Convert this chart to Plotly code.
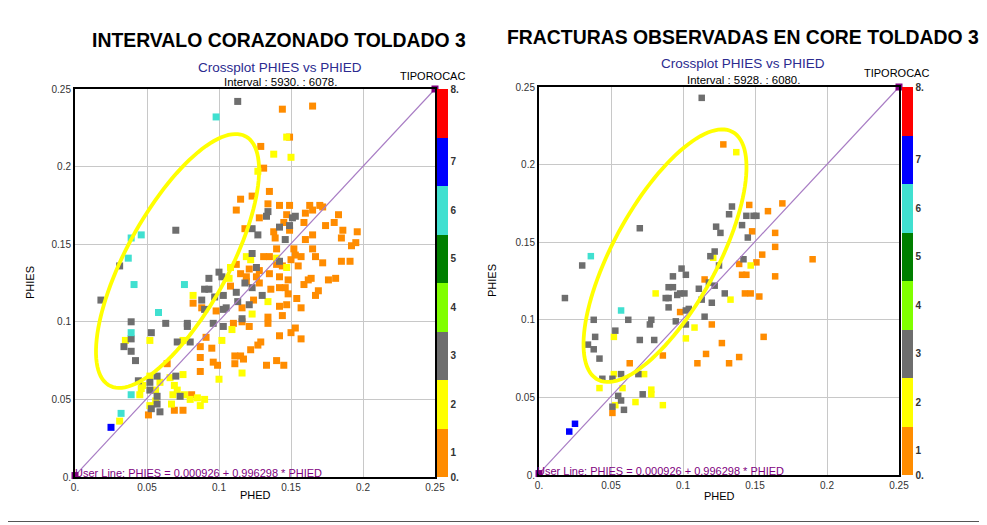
import numpy as np
import plotly.graph_objects as go

# page offset: the browser places the figure 8px from the top-left corner
OFF = 8
W, H = 987 - OFF, 525 - OFF

# ---------------- data (PHIED, PHIES) grouped by TIPOROCAC code ----------------
left_code1 = [(0.129,0.213),(0.131,0.199),(0.115,0.179),(0.112,0.172),(0.123,0.181),(0.128,0.167),(0.118,0.160),
    (0.144,0.237),(0.165,0.239),(0.149,0.219),(0.135,0.184),(0.134,0.176),(0.142,0.175),(0.149,0.175),(0.163,0.175),
    (0.170,0.175),(0.172,0.174),(0.165,0.172),(0.147,0.169),(0.160,0.170),(0.183,0.169),(0.145,0.164),(0.159,0.164),
    (0.180,0.164),(0.174,0.162),(0.138,0.158),(0.149,0.159),(0.186,0.159),(0.196,0.158),(0.165,0.156),(0.139,0.154),
    (0.160,0.153),(0.185,0.154),(0.195,0.151),(0.192,0.149),(0.165,0.147),(0.152,0.147),(0.140,0.147),(0.131,0.142),
    (0.135,0.142),(0.150,0.140),(0.153,0.143),(0.157,0.142),(0.167,0.142),(0.172,0.138),(0.185,0.139),(0.191,0.139),
    (0.155,0.136),(0.112,0.137),(0.115,0.131),(0.121,0.134),(0.128,0.133),(0.135,0.131),(0.142,0.129),(0.148,0.127),
    (0.164,0.128),(0.176,0.127),(0.181,0.128),(0.119,0.129),(0.126,0.129),(0.140,0.137),(0.144,0.136),(0.119,0.126),
    (0.128,0.125),(0.136,0.121),(0.146,0.122),(0.142,0.122),(0.148,0.118),(0.154,0.115),(0.157,0.109),(0.162,0.127),
    (0.169,0.120),(0.167,0.117),(0.159,0.124),(0.108,0.123),(0.116,0.109),(0.124,0.114),(0.098,0.107),(0.134,0.103),
    (0.142,0.110),(0.147,0.111),(0.144,0.104),(0.110,0.099),(0.116,0.100),(0.121,0.097),(0.134,0.099),(0.091,0.090),
    (0.142,0.091),(0.150,0.093),(0.153,0.096),(0.157,0.089),(0.087,0.084),(0.095,0.083),(0.127,0.085),(0.129,0.087),
    (0.122,0.082),(0.087,0.077),(0.111,0.078),(0.115,0.078),(0.117,0.076),(0.096,0.074),(0.099,0.072),(0.111,0.073),
    (0.133,0.072),(0.140,0.075),(0.145,0.072),(0.082,0.112),(0.088,0.109),(0.064,0.073),(0.087,0.068),(0.081,0.053),
    (0.069,0.043),(0.075,0.043),(0.051,0.040)]
left_code2 = [(0.127,0.197),(0.138,0.208),(0.150,0.206),(0.147,0.219),(0.119,0.142),(0.122,0.140),(0.140,0.141),
    (0.147,0.135),(0.108,0.135),(0.107,0.128),(0.082,0.117),(0.134,0.113),(0.123,0.105),(0.109,0.095),(0.102,0.088),
    (0.075,0.088),(0.116,0.067),(0.100,0.063),(0.090,0.050),(0.087,0.046),(0.035,0.088),(0.052,0.088),(0.052,0.065),
    (0.047,0.059),(0.075,0.066),(0.066,0.064),(0.059,0.061),(0.069,0.059),(0.071,0.056),(0.068,0.053),(0.076,0.053),
    (0.080,0.050),(0.085,0.051),(0.067,0.047),(0.045,0.053),(0.046,0.057),(0.056,0.056),(0.056,0.049),(0.052,0.046),
    (0.031,0.036)]
left_code3 = [(0.113,0.242),(0.134,0.171),(0.133,0.168),(0.123,0.160),(0.127,0.156),(0.070,0.159),(0.031,0.136),
    (0.123,0.144),(0.126,0.135),(0.100,0.132),(0.093,0.128),(0.102,0.129),(0.151,0.167),(0.153,0.168),(0.142,0.161),
    (0.149,0.162),(0.146,0.153),(0.142,0.139),(0.118,0.125),(0.123,0.122),(0.090,0.121),(0.093,0.121),(0.097,0.116),
    (0.103,0.117),(0.088,0.114),(0.112,0.119),(0.113,0.113),(0.121,0.111),(0.130,0.117),(0.090,0.108),(0.103,0.108),
    (0.105,0.109),(0.116,0.102),(0.078,0.099),(0.078,0.097),(0.096,0.099),(0.103,0.097),(0.080,0.087),(0.018,0.114),
    (0.039,0.100),(0.063,0.099),(0.053,0.093),(0.039,0.089),(0.071,0.087),(0.034,0.084),(0.039,0.081),(0.042,0.075),
    (0.044,0.062),(0.052,0.061),(0.057,0.065),(0.070,0.065),(0.073,0.052),(0.052,0.056),(0.057,0.052),(0.057,0.047),
    (0.059,0.042),(0.053,0.044)]
left_code6 = [(0.098,0.232),(0.039,0.154),(0.046,0.156),(0.037,0.141),(0.041,0.124),(0.076,0.124),(0.058,0.106),
    (0.039,0.093),(0.039,0.053),(0.032,0.041)]
left_code7 = [(0.025,0.032)]

right_code1 = [(0.128,0.213),(0.146,0.174),(0.169,0.175),(0.159,0.170),(0.148,0.157),(0.164,0.156),(0.164,0.147),
    (0.155,0.142),(0.151,0.137),(0.139,0.136),(0.190,0.139),(0.141,0.129),(0.144,0.129),(0.164,0.128),(0.115,0.126),
    (0.143,0.117),(0.147,0.117),(0.153,0.115),(0.098,0.105),(0.120,0.097),(0.156,0.089),(0.127,0.085),(0.116,0.078),
    (0.086,0.077),(0.139,0.076),(0.063,0.072),(0.110,0.072),(0.132,0.072),(0.051,0.040)]
right_code2 = [(0.137,0.208),(0.121,0.140),(0.147,0.135),(0.081,0.117),(0.133,0.113),(0.108,0.095),(0.052,0.089),
    (0.102,0.088),(0.052,0.065),(0.073,0.065),(0.042,0.056),(0.058,0.056),(0.078,0.055),(0.078,0.052),(0.067,0.047),
    (0.053,0.045),(0.086,0.045)]
right_code3 = [(0.113,0.243),(0.070,0.159),(0.134,0.173),(0.132,0.168),(0.144,0.167),(0.149,0.167),(0.151,0.167),
    (0.123,0.160),(0.126,0.156),(0.141,0.161),(0.145,0.153),(0.030,0.135),(0.122,0.144),(0.119,0.141),(0.125,0.135),
    (0.142,0.139),(0.099,0.133),(0.102,0.129),(0.093,0.128),(0.118,0.124),(0.122,0.122),(0.090,0.121),(0.093,0.121),
    (0.098,0.117),(0.101,0.117),(0.096,0.116),(0.111,0.120),(0.088,0.114),(0.090,0.114),(0.129,0.117),(0.113,0.113),
    (0.120,0.111),(0.018,0.114),(0.090,0.108),(0.104,0.107),(0.102,0.106),(0.115,0.102),(0.038,0.100),(0.062,0.100),
    (0.078,0.100),(0.077,0.097),(0.095,0.099),(0.102,0.097),(0.053,0.093),(0.039,0.089),(0.070,0.087),(0.080,0.087),
    (0.034,0.084),(0.038,0.081),(0.042,0.075),(0.044,0.062),(0.057,0.065),(0.069,0.065),(0.051,0.062),(0.072,0.052),
    (0.055,0.051),(0.057,0.048),(0.051,0.044),(0.059,0.042)]
right_code6 = [(0.036,0.141),(0.057,0.106)]
right_code7 = [(0.025,0.033),(0.021,0.028)]

axis_ticks = [0, 0.05, 0.1, 0.15, 0.2, 0.25]
axis_ticktext = ["0.", "0.05", "0.1", "0.15", "0.2", "0.25"]
cbar_tickvals = [0, 0.5, 1.5, 2.5, 3.5, 4.5, 5.5, 6.5, 8]
cbar_ticktext = ["0.", "1", "2", "3", "4", "5", "6", "7", "8."]
band_colors = ["#FF8C00", "#FFFF00", "#6E6E6E", "#80FF00", "#007F00", "#40E0D0", "#0000FF", "#FF0000"]
code_colors = {1: "#FF8C00", 2: "#FFFF00", 3: "#6E6E6E", 6: "#40E0D0", 7: "#0000FF"}
line_intercept = 0.000926
line_slope = 0.996298

titles = ["INTERVALO CORAZONADO TOLDADO 3", "FRACTURAS OBSERVADAS EN CORE TOLDADO 3"]
intervals = ["Interval : 5930. : 6078.", "Interval : 5928. : 6080."]

FONT = "Liberation Sans, Arial, sans-serif"

def fx(px):
    return (px - OFF) / W

def fy(py):
    return 1 - (py - OFF) / H

fig = go.Figure()

panels = [
    dict(xa="x", ya="y", groups=[(1, left_code1), (2, left_code2), (3, left_code3), (6, left_code6), (7, left_code7)],
         size=7, dom_x=(75, 435), dom_y=(89, 477)),
    dict(xa="x2", ya="y2", groups=[(1, right_code1), (2, right_code2), (3, right_code3), (6, right_code6), (7, right_code7)],
         size=6.5, dom_x=(539, 899), dom_y=(87, 475)),
]

cscale = []
for i, c in enumerate(band_colors):
    cscale.append([i / 8, c])
    cscale.append([(i + 1) / 8, c])

for p in panels:
    for code, pts in p["groups"]:
        fig.add_trace(go.Scatter(
            x=[q[0] for q in pts], y=[q[1] for q in pts], mode="markers",
            xaxis=p["xa"], yaxis=p["ya"], showlegend=False,
            marker=dict(symbol="square", size=p["size"], color=code_colors[code], line=dict(width=0)),
        ))
    lx = np.array([0.0, 0.25])
    ly = line_intercept + line_slope * lx
    fig.add_trace(go.Scatter(x=lx, y=ly, mode="lines", xaxis=p["xa"], yaxis=p["ya"], showlegend=False,
                             line=dict(color="#A87CC4", width=1.2), hoverinfo="skip"))
    fig.add_trace(go.Scatter(x=lx, y=np.minimum(ly, 0.25), mode="markers", xaxis=p["xa"], yaxis=p["ya"],
                             showlegend=False, cliponaxis=False,
                             marker=dict(symbol="square", size=7, color="#800080"), hoverinfo="skip"))

# colour bars
cb_specs = [("x", "y", 437, 89, 477), ("x2", "y2", 902, 87, 475)]
for xa, ya, cx, top, bot in cb_specs:
    fig.add_trace(go.Scatter(
        x=[None], y=[None], mode="markers", xaxis=xa, yaxis=ya, showlegend=False, hoverinfo="skip",
        marker=dict(color=[0], cmin=0, cmax=8, colorscale=cscale, showscale=True,
                    colorbar=dict(x=fx(cx), xanchor="left", xpad=0, ypad=0, y=fy(bot), yanchor="bottom",
                                  len=(bot - top) / H, lenmode="fraction", thickness=11, outlinewidth=0,
                                  tickvals=cbar_tickvals, ticktext=cbar_ticktext, ticks="",
                                  tickfont=dict(family=FONT, size=10, color="#333333", weight="bold"))),
    ))

def ax(dom, anchor):
    return dict(domain=dom, anchor=anchor, range=[0, 0.25], tickvals=axis_ticks, ticktext=axis_ticktext,
                showgrid=True, gridcolor="#C8C8C8", gridwidth=1, showline=True, linecolor="black",
                linewidth=2, mirror=True, zeroline=False, ticks="", automargin=False,
                tickfont=dict(family=FONT, size=10, color="#333333"), fixedrange=True)

layout = dict(width=W, height=H, margin=dict(l=0, r=0, t=0, b=0, autoexpand=False), paper_bgcolor="white",
              plot_bgcolor="white", showlegend=False, font=dict(family=FONT))
for p, (xk, yk) in zip(panels, [("xaxis", "yaxis"), ("xaxis2", "yaxis2")]):
    x0, x1 = p["dom_x"]
    y0, y1 = p["dom_y"]
    layout[xk] = ax([fx(x0), fx(x1)], p["ya"])
    layout[yk] = ax([fy(y1), fy(y0)], p["xa"])
fig.update_layout(**layout)

# yellow hand-drawn ellipses (annotation)
def ellipse_path(cx, cy, a, b, ang, sx, sy):
    t = np.linspace(0, 2 * np.pi, 120)
    th = np.radians(ang)
    ex = a * np.cos(t) * np.cos(th) - b * np.sin(t) * np.sin(th)
    ey = a * np.cos(t) * np.sin(th) + b * np.sin(t) * np.cos(th)
    xs = cx + ex / sx
    ys = cy + ey / sy
    return "M " + " L ".join(f"{u:.5f},{v:.5f}" for u, v in zip(xs, ys)) + " Z"

ellipses = [("x", "y", 0.0712, 0.1392, 142, 51, 61.3, 1440, 1552),
            ("x2", "y2", 0.0875, 0.1413, 141, 52, 61.4, 1440, 1552)]
shapes = []
for xr, yr, cx, cy, a, b, ang, sx, sy in ellipses:
    shapes.append(dict(type="path", xref=xr, yref=yr, path=ellipse_path(cx, cy, a, b, ang, sx, sy),
                       line=dict(color="#FFFF00", width=3.8), layer="above"))
# outer frame (right and bottom edges visible)
shapes.append(dict(type="line", xref="paper", yref="paper", x0=fx(983), x1=fx(983), y0=fy(521.5), y1=1,
                   line=dict(color="#555555", width=1.5)))
shapes.append(dict(type="line", xref="paper", yref="paper", x0=0, x1=fx(983), y0=fy(521.5), y1=fy(521.5),
                   line=dict(color="#555555", width=1)))
fig.update_layout(shapes=shapes)

ann = []
def text(s, x, y, size, color="black", bold=False, angle=0, xanchor="center"):
    ann.append(dict(text=s, x=fx(x), y=fy(y), xref="paper", yref="paper", showarrow=False,
                    xanchor=xanchor, yanchor="middle", textangle=angle,
                    font=dict(family=FONT, size=size, color=color, weight="bold" if bold else "normal")))

text(titles[0], 279, 40, 19.4, bold=True)
text(titles[1], 743, 37, 19.4, bold=True)
for cx, yc in [(280, 67), (743, 64)]:
    text("Crossplot PHIES vs PHIED", cx, yc, 13.5, color="#2B2B8F")
for s, cx, yi in [(intervals[0], 280, 82), (intervals[1], 743, 80)]:
    text(s, cx, yi, 11.4)
text("TIPOROCAC", 432, 76, 11)
text("TIPOROCAC", 896, 73, 11)
text("PHED", 255, 495, 11)
text("PHED", 719, 496, 11)
text("PHIES", 30, 283, 11, angle=-90)
text("PHIES", 492, 281, 11, angle=-90)
ulabel = f"User Line: PHIES = {line_intercept:.6f} + {line_slope:.6f} * PHIED"
text(ulabel, 73, 473, 11, color="#800080", xanchor="left")
text(ulabel, 535, 471, 11, color="#800080", xanchor="left")
fig.update_layout(annotations=ann)

fig.write_html("out.html")
